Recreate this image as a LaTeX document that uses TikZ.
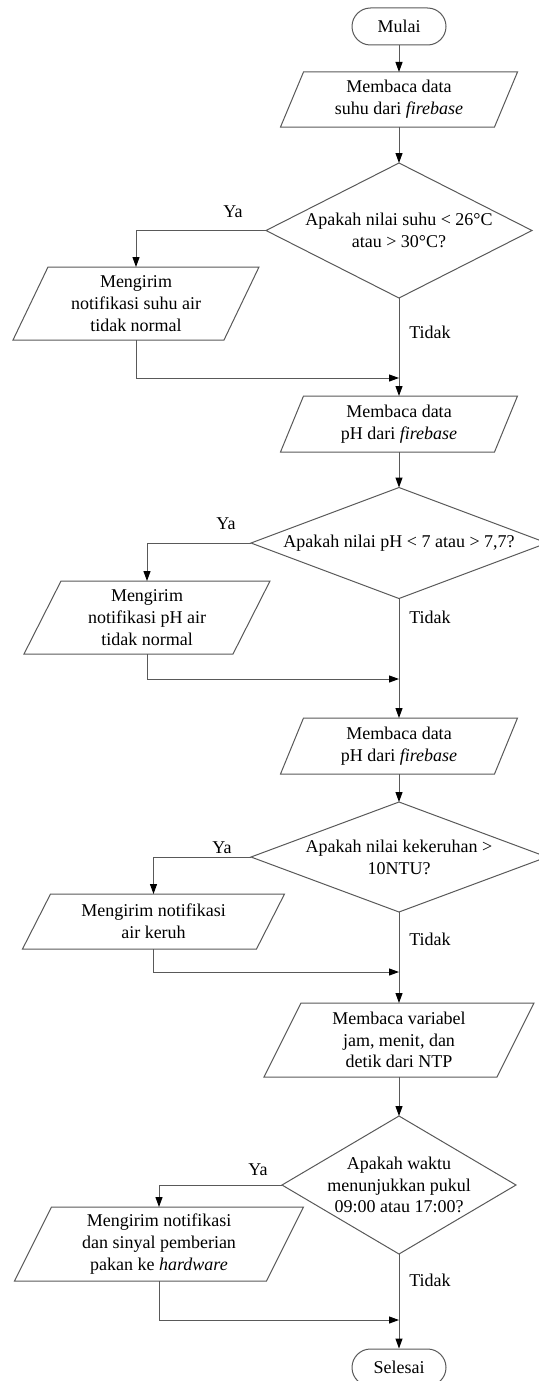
\documentclass[tikz,border=0pt]{standalone}
\usepackage{fontspec}
\setmainfont{Liberation Serif}
\usetikzlibrary{arrows.meta,calc}
\tikzset{
  shp/.style={draw=black!65, line width=1pt, fill=white},
  txt/.style={align=center, font=\fontsize{18}{21.8}\selectfont, inner sep=0pt},
  lbl/.style={font=\fontsize{18}{21.8}\selectfont, inner sep=0pt},
  flow/.style={draw=black!65, line width=1pt, -{Triangle[length=10pt,width=7pt,color=black]}},
  term/.style={shp, txt, rounded corners=18.5pt, minimum width=94pt, minimum height=37pt},
}
% name, cx, cy, top width, height, slant offset, text
\newcommand\iobox[7]{%
  \draw[shp] (#2-#4/2+#6/2, #3-#5/2) -- (#2+#4/2+#6/2, #3-#5/2) -- (#2+#4/2-#6/2, #3+#5/2) -- (#2-#4/2-#6/2, #3+#5/2) -- cycle;
  \node[txt] (#1) at (#2,#3) {#7};
  \coordinate (#1t) at (#2,#3-#5/2);
  \coordinate (#1b) at (#2,#3+#5/2);
}
% name, cx, cy, half width, half height, text
\newcommand\decide[6]{%
  \draw[shp] (#2,#3-#5) -- (#2+#4,#3) -- (#2,#3+#5) -- (#2-#4,#3) -- cycle;
  \node[txt] (#1) at (#2,#3) {#6};
  \coordinate (#1t) at (#2,#3-#5);
  \coordinate (#1b) at (#2,#3+#5);
  \coordinate (#1l) at (#2-#4,#3);
  \coordinate (#1r) at (#2+#4,#3);
}
\begin{document}
\begin{tikzpicture}[x=1pt,y=-1pt]
\useasboundingbox (0,0) rectangle (538,1381);

\node[term] (start) at (399,26.5) {Mulai};
\iobox{p1}{399}{99.5}{214}{55}{23}{Membaca data\\suhu dari \textit{firebase}}
\decide{d1}{399}{230.5}{133}{67.5}{Apakah nilai suhu < 26°C\\atau > 30°C?}
\iobox{p2}{136}{303.5}{211}{73}{35}{Mengirim\\notifikasi suhu air\\tidak normal}
\coordinate (m1) at (399,378);
\iobox{p3}{399}{424}{214}{56}{23}{Membaca data\\pH dari \textit{firebase}}
\decide{d2}{399}{543}{148}{55.5}{Apakah nilai pH < 7 atau > 7,7?}
\iobox{p4}{147}{617.5}{209}{73}{37}{Mengirim\\notifikasi pH air\\tidak normal}
\coordinate (m2) at (399,679);
\iobox{p5}{399}{746}{214}{56}{23}{Membaca data\\pH dari \textit{firebase}}
\decide{d3}{399}{857}{148}{55}{Apakah nilai kekeruhan >\\10NTU?}
\iobox{p6}{153.5}{921.5}{234}{55}{28}{Mengirim notifikasi\\air keruh}
\coordinate (m3) at (399,972);
\iobox{p7}{399}{1040}{233}{74}{37}{Membaca variabel\\jam, menit, dan\\detik dari NTP}
\decide{d4}{399}{1185}{117}{69}{Apakah waktu\\menunjukkan pukul\\09:00 atau 17:00?}
\iobox{p8}{159}{1244}{252}{74}{37}{Mengirim notifikasi\\dan sinyal pemberian\\pakan ke \textit{hardware}}
\coordinate (m4) at (399,1320);
\node[term] (stop) at (399,1367.5) {Selesai};

\draw[flow] (start.south) -- (p1t);
\draw[flow] (p1b) -- (d1t);
\draw[flow] (d1l) -| (p2t);
\draw[flow] (p2b) |- (m1);
\draw[flow] (d1b) -- (p3t);
\draw[flow] (p3b) -- (d2t);
\draw[flow] (d2l) -| (p4t);
\draw[flow] (p4b) |- (m2);
\draw[flow] (d2b) -- (p5t);
\draw[flow] (p5b) -- (d3t);
\draw[flow] (d3l) -| (p6t);
\draw[flow] (p6b) |- (m3);
\draw[flow] (d3b) -- (p7t);
\draw[flow] (p7b) -- (d4t);
\draw[flow] (d4l) -| (p8t);
\draw[flow] (p8b) |- (m4);
\draw[flow] (d4b) -- (stop.north);

\node[lbl] (ya1) at (233,212) {Ya};
\node[lbl] (ya2) at (226,524) {Ya};
\node[lbl] (ya3) at (222,848) {Ya};
\node[lbl] (ya4) at (258,1170) {Ya};
\node[lbl] (no1) at (430,332) {Tidak};
\node[lbl] (no2) at (430,617) {Tidak};
\node[lbl] (no3) at (430,939) {Tidak};
\node[lbl] (no4) at (430,1280) {Tidak};
\end{tikzpicture}
\end{document}
